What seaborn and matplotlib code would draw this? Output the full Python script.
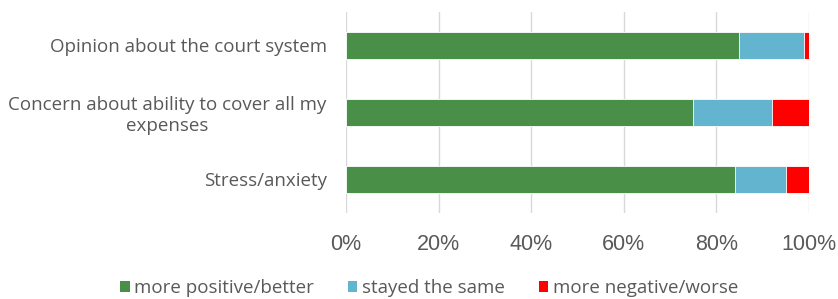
import numpy as np
import pandas as pd
import matplotlib.pyplot as plt
import seaborn as sns
from matplotlib.patches import Patch

sns.set_theme(style="white")
plt.rcParams["font.family"] = ["Open Sans", "DejaVu Sans"]

# data
categories = ["Opinion about the court system",
              "Concern about ability to cover all my\nexpenses",
              "Stress/anxiety"]
better = [85, 75, 84]
same = [14, 17, 11]
worse = [1, 8, 5]
series = ["more positive/better", "stayed the same", "more negative/worse"]
colors = ["#4A8F48", "#62B4CF", "#FF0000"]

df = pd.DataFrame({"cat": categories, "better": better, "same": same, "worse": worse})
df["c_worse"] = df["better"] + df["same"] + df["worse"]
df["c_same"] = df["better"] + df["same"]
df["c_better"] = df["better"]

fig = plt.figure(figsize=(8.38, 2.99), dpi=100)
ax = fig.add_axes([0.413, 0.288, 0.552, 0.672])

# stacked bars: draw cumulative totals back to front
for col, c in zip(["c_worse", "c_same", "c_better"], colors[::-1]):
    sns.barplot(data=df, x=col, y="cat", color=c, width=0.4, ax=ax,
                saturation=1, edgecolor="white", linewidth=0.6, zorder=2)

ax.set_xlim(0, 100)
ax.set_xticks(np.arange(0, 101, 20))
ax.set_xticklabels([f"{v}%" for v in range(0, 101, 20)], fontsize=15.5,
                   color="#595959", family="Liberation Sans")
ax.xaxis.grid(True, color="#d9d9d9", linewidth=1, zorder=0)
ax.set_axisbelow(True)
ax.set_xlabel("")
ax.set_ylabel("")
for s in ax.spines.values():
    s.set_visible(False)
ax.tick_params(axis="y", length=0, pad=14, labelsize=13.5, labelcolor="#595959")
ax.tick_params(axis="x", length=0, pad=15)
for t in ax.get_yticklabels():
    t.set_multialignment("center")
    t.set_linespacing(1.15)

handles = [Patch(facecolor=c, edgecolor="none") for c in colors]
fig.legend(handles, series, loc="center", bbox_to_anchor=(0.512, 0.037), ncol=3,
           frameon=False, fontsize=13.5, labelcolor="#595959",
           handlelength=0.5, handleheight=0.5, handletextpad=0.25, columnspacing=1.8,
           borderpad=0)

plt.savefig("out.png", dpi=100)
